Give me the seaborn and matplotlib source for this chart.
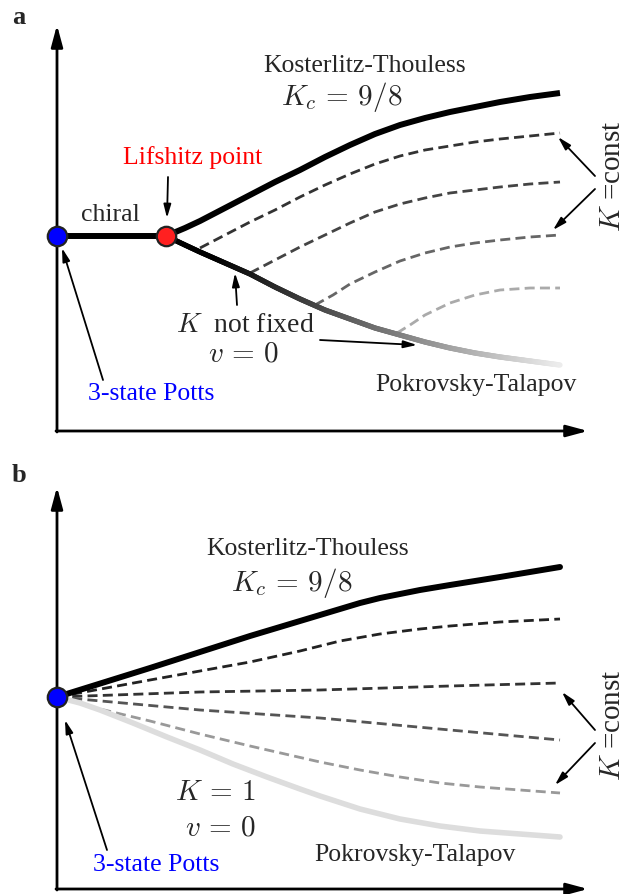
import numpy as np
import matplotlib
matplotlib.use("Agg")
import matplotlib.pyplot as plt
from matplotlib.collections import LineCollection
import seaborn as sns

# ---- panel a curves (pixel-like schematic coordinates, y grows downward) ----
a_chiral_x = [57, 166]
a_chiral_y = [236, 236]
a_kt_x = [166, 185, 200, 225, 250, 275, 300, 325, 350, 375, 400, 425, 450, 475, 500, 530, 560]
a_kt_y = [236, 228, 221, 208, 195, 182, 170, 157, 145, 134, 125, 118, 112, 107, 102, 97, 93]
a_pt_x = [166, 185, 200, 225, 250, 275, 300, 325, 350, 375, 400, 425, 450, 475, 500, 530, 560]
a_pt_y = [236, 245, 252, 263, 274, 287, 299, 310, 319, 328, 335, 342, 348, 353, 357, 361, 365]
a_dash_x = [
    [200, 225, 250, 275, 300, 325, 350, 375, 400, 425, 450, 475, 500, 530, 560],
    [250, 275, 300, 325, 350, 375, 400, 425, 450, 475, 500, 530, 560],
    [315, 333, 350, 375, 400, 425, 450, 475, 500, 530, 560],
    [397, 410, 425, 450, 475, 500, 530, 560],
]
a_dash_y = [
    [248, 235, 222, 210, 197, 185, 174, 164, 156, 150, 146, 142, 139, 136, 133],
    [273, 260, 247, 235, 223, 212, 204, 198, 193, 190, 187, 184, 182],
    [305, 295, 284, 272, 261, 253, 247, 243, 240, 237, 235],
    [333, 325, 315, 303, 295, 290, 288, 288],
]
a_dash_colors = ["#333333", "#444444", "#666666", "#aaaaaa"]

# ---- panel b curves ----
b_kt_x = [57, 150, 250, 320, 360, 380, 420, 450, 500, 560]
b_kt_y = [697, 668, 636, 615, 603, 598, 590, 585, 577, 567]
b_pt_x = [57, 80, 100, 133, 167, 200, 233, 267, 300, 320, 360, 400, 440, 480, 520, 560]
b_pt_y = [697, 703, 710, 723, 737, 750, 764, 777, 789, 796, 809, 819, 826, 831, 834, 837]
b_dash_x = [
    [57, 150, 250, 300, 340, 380, 420, 450, 500, 560],
    [57, 200, 320, 450, 560],
    [57, 200, 320, 450, 560],
    [57, 100, 150, 200, 250, 320, 360, 400, 440, 480, 520, 560],
]
b_dash_y = [
    [697, 680, 662, 651, 641, 634, 629, 626, 622, 619],
    [697, 692, 690, 686, 683],
    [697, 710, 718, 730, 740],
    [697, 709, 721, 734, 746, 762, 770, 777, 783, 787, 790, 793],
]
b_dash_colors = ["#222222", "#333333", "#555555", "#999999"]

sns.set_style("white")
plt.rcParams["font.family"] = ["Liberation Serif", "DejaVu Serif"]
plt.rcParams["mathtext.fontset"] = "cm"

fig = plt.figure(figsize=(6.35, 8.94), dpi=100)
ax = fig.add_axes([0, 0, 1, 1])
ax.set_xlim(0, 635)
ax.set_ylim(894, 0)
ax.axis("off")

TXT = 18.5
MTH = 21
dash = (0, (3.6, 1.9))


def axes_arrows(y0, ytop, xright):
    style = "-|>,head_length=1.3,head_width=0.35"
    ax.annotate("", xy=(57, ytop), xytext=(57, y0 + 1),
                arrowprops=dict(arrowstyle=style, lw=2.0, color="black",
                                shrinkA=0, shrinkB=0))
    ax.annotate("", xy=(xright, y0), xytext=(56, y0),
                arrowprops=dict(arrowstyle=style, lw=2.0, color="black",
                                shrinkA=0, shrinkB=0))


def pointer(tip, tail):
    ax.annotate("", xy=tip, xytext=tail,
                arrowprops=dict(arrowstyle="-|>,head_length=0.8,head_width=0.22",
                                lw=1.3, color="black", shrinkA=0, shrinkB=0))


def gradient_line(xs, ys, lw, c_start, c_end, x_from, x_to):
    xx = np.linspace(xs[0], xs[-1], 300)
    yy = np.interp(xx, xs, ys)
    pts = np.column_stack([xx, yy]).reshape(-1, 1, 2)
    segs = np.concatenate([pts[:-1], pts[1:]], axis=1)
    t = np.clip((xx[:-1] - x_from) / (x_to - x_from), 0, 1)
    g = c_start + (c_end - c_start) * t
    cols = [(v, v, v) for v in g]
    lc = LineCollection(segs, colors=cols, linewidths=lw, capstyle="round", zorder=3)
    ax.add_collection(lc)


# ================= panel a =================
axes_arrows(431, 25, 588)
ax.text(12, 18, "a", fontsize=19, fontweight="bold", va="center", ha="left")

for xs, ys, c in zip(a_dash_x, a_dash_y, a_dash_colors):
    sns.lineplot(x=xs, y=ys, ax=ax, color=c, lw=2.0, linestyle=dash, sort=False)
gradient_line(a_pt_x, a_pt_y, 3.8, 0.0, 0.93, 215, 560)
sns.lineplot(x=a_kt_x, y=a_kt_y, ax=ax, color="black", lw=4.3, sort=False,
             solid_capstyle="butt")
sns.lineplot(x=a_chiral_x, y=a_chiral_y, ax=ax, color="black", lw=4.3, sort=False)
ax.plot([57], [236], "o", ms=14, mfc="#0000ff", mec="#222222", mew=1.6, zorder=5)
ax.plot([166], [236], "o", ms=14, mfc="#ff2020", mec="#222222", mew=1.6, zorder=5)

ax.text(365, 66, "Kosterlitz-Thouless", fontsize=TXT, ha="center", va="center")
ax.text(342, 97, r"$K_c\,=\,9/8$", fontsize=MTH, ha="center", va="center")
ax.text(193, 158, "Lifshitz point", fontsize=TXT, color="#ff0000", ha="center", va="center")
ax.text(110, 215, "chiral", fontsize=TXT, ha="center", va="center")
ax.text(245, 325, r"$K$  not fixed", fontsize=MTH - 1, ha="center", va="center")
ax.text(243, 355, r"$v\,=\,0$", fontsize=MTH, ha="center", va="center")
ax.text(476, 385, "Pokrovsky-Talapov", fontsize=TXT, ha="center", va="center")
ax.text(151, 394, "3-state Potts", fontsize=TXT, color="#0000ff", ha="center", va="center")
ax.text(613, 176, r"$K$ =const", fontsize=MTH, rotation=90, ha="center", va="center")

pointer((167, 218), (168, 177))
pointer((235, 273), (237, 305))
pointer((417, 345), (320, 340))
pointer((62, 248), (103, 380))
pointer((558, 137), (595, 176))
pointer((553, 230), (595, 189))

# ================= panel b =================
axes_arrows(889, 487, 588)
ax.text(12, 475, "b", fontsize=19, fontweight="bold", va="center", ha="left")

for xs, ys, c in zip(b_dash_x, b_dash_y, b_dash_colors):
    sns.lineplot(x=xs, y=ys, ax=ax, color=c, lw=2.0, linestyle=dash, sort=False)
sns.lineplot(x=b_pt_x, y=b_pt_y, ax=ax, color="#dddddd", lw=4.0, sort=False)
sns.lineplot(x=b_kt_x, y=b_kt_y, ax=ax, color="black", lw=4.3, sort=False)
ax.plot([57], [697], "o", ms=14, mfc="#0000ff", mec="#222222", mew=1.6, zorder=5)

ax.text(308, 549, "Kosterlitz-Thouless", fontsize=TXT, ha="center", va="center")
ax.text(292, 583, r"$K_c\,=\,9/8$", fontsize=MTH, ha="center", va="center")
ax.text(215, 793, r"$K\,=\,1$", fontsize=MTH, ha="center", va="center")
ax.text(220, 828, r"$v\,=\,0$", fontsize=MTH, ha="center", va="center")
ax.text(415, 855, "Pokrovsky-Talapov", fontsize=TXT, ha="center", va="center")
ax.text(156, 865, "3-state Potts", fontsize=TXT, color="#0000ff", ha="center", va="center")
ax.text(613, 725, r"$K$ =const", fontsize=MTH, rotation=90, ha="center", va="center")

pointer((65, 720), (107, 850))
pointer((562, 692), (595, 730))
pointer((555, 785), (595, 743))

fig.savefig("out.png", dpi=100)
